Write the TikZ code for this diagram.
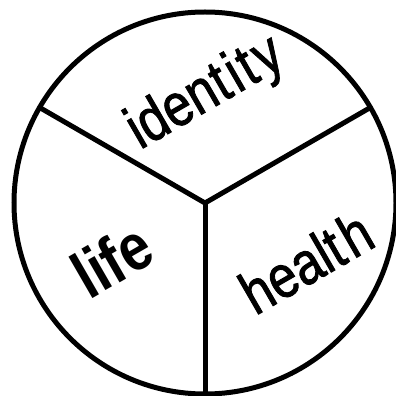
\documentclass[tikz,border=0pt]{standalone}
\usepackage{fontspec}
\setmainfont{Liberation Sans}
\newfontfamily\medfont{Liberation Sans}[FakeBold=1.6]
\usetikzlibrary{calc}
\begin{document}
\begin{tikzpicture}[x=1pt,y=1pt,
  ring/.style={line width=5pt},
  spoke/.style={line width=5pt,line cap=butt},
  word/.style={inner sep=0pt,rotate=30,xscale=0.84,font=\medfont\fontsize{60}{60}\selectfont}]
\useasboundingbox (0,0) rectangle (396,396);
\coordinate (C) at (205,193);
\draw[ring] (C) circle[radius=191];
\coordinate (L) at ($(C)+(150:191)$);
\coordinate (R) at ($(C)+(30:191)$);
\coordinate (B) at ($(C)+(270:191)$);
\draw[spoke,line join=miter] (L) -- (C) -- (R);
\draw[spoke] (C) -- (B);
\node[word] (identity) at (206,302) {iden\kern1pt t\kern4pt i\kern3pt t\kern4pt y};
\node[word,font=\fontsize{66}{66}\bfseries\selectfont] (life) at (112,136) {life};
\node[word] (health) at (306,134) {healt\kern5pt h};
\end{tikzpicture}
\end{document}
